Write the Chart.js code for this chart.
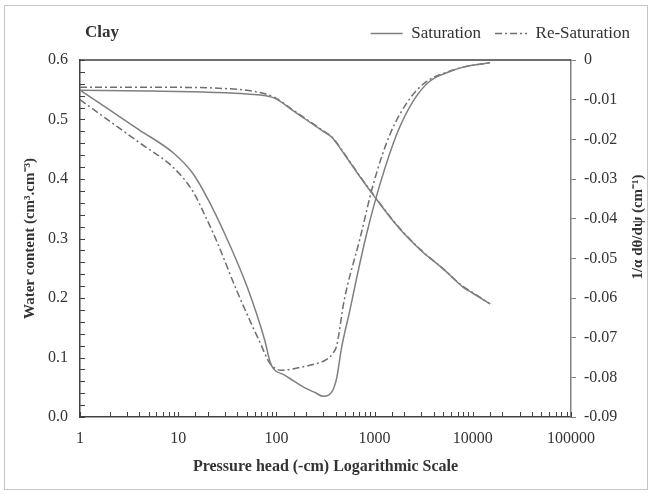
<!DOCTYPE html>
<html>
<head>
<meta charset="utf-8">
<script src="https://cdn.jsdelivr.net/npm/chart.js@4"></script>
<style>
  html, body { margin: 0; padding: 0; background: #fff; }
  #wrap { width: 651px; height: 494px; }
</style>
</head>
<body>
<div id="wrap"><canvas id="myChart" width="651" height="494"></canvas></div>
<script>
// water content (left axis)
const satHead  = [1, 5, 20, 50, 96, 150, 200, 300, 366, 500, 700, 1000, 1500, 2000, 3000, 5000, 8000, 10000, 15000];
const satTheta = [0.549, 0.548, 0.546, 0.543, 0.536, 0.514, 0.500, 0.480, 0.470, 0.440, 0.405, 0.370, 0.332, 0.308, 0.279, 0.249, 0.218, 0.208, 0.190];
const resHead  = [1, 10, 30, 60, 96, 150, 200, 300, 366, 500, 700, 1000, 1500, 2000, 3000, 5000, 8000, 10000, 15000];
const resTheta = [0.554, 0.554, 0.552, 0.547, 0.537, 0.515, 0.501, 0.481, 0.471, 0.441, 0.406, 0.371, 0.333, 0.309, 0.280, 0.249, 0.219, 0.209, 0.190];

// 1/a d(theta)/d(psi) (right axis)
const satDHead = [1, 2, 4, 9, 14, 20, 30, 50, 76, 86, 93, 120, 150, 200, 250, 300, 340, 380, 411, 462, 560, 660, 830, 1135, 1680, 2480, 3665, 5420, 8000, 15000];
const satDeriv = [-0.0076, -0.0126, -0.0176, -0.0235, -0.0285, -0.0350, -0.0440, -0.0570, -0.0706, -0.0760, -0.0778, -0.0794, -0.0809, -0.0828, -0.0839, -0.0848, -0.0845, -0.0830, -0.0802, -0.0724, -0.0631, -0.0547, -0.0438, -0.0313, -0.0187, -0.0103, -0.0053, -0.0032, -0.0018, -0.0007];
const resDHead = [1, 2, 4, 9, 14, 19, 25, 40, 68, 86, 113, 174, 250, 325, 380, 411, 490, 710, 970, 1436, 2290, 3390, 5420, 8000, 15000];
const resDeriv = [-0.0100, -0.0154, -0.0208, -0.0272, -0.0330, -0.0395, -0.0460, -0.0585, -0.0712, -0.0765, -0.0782, -0.0775, -0.0766, -0.0755, -0.0738, -0.0720, -0.0606, -0.0450, -0.0313, -0.0187, -0.0097, -0.0054, -0.0031, -0.0018, -0.0007];

const xMin = 1, xMax = 100000;
const thetaMin = 0, thetaMax = 0.6, thetaStep = 0.1, thetaMinor = 0.02;
const dMin = -0.09, dMax = 0, dStep = 0.01;

const pts = (xs, ys) => xs.map((x, i) => ({x: x, y: ys[i]}));

const serif = 'Liberation Serif';
const ink = '#333';
const solidCol = '#7f7f7f';
const dashCol = '#6e6e6e';
const dashPat = [7, 3, 2, 3];

// inward ticks, frame, outer border, extra texts
const extras = {
    id: 'extras',
    afterInit(chart) {
        const lg = chart.legend;
        const fit = lg.fit;
        lg.fit = function () { fit.call(this); this.height += 8; };
    },
    beforeDraw(chart) {
        const ctx = chart.ctx;
        ctx.save();
        ctx.fillStyle = '#fff';
        ctx.fillRect(0, 0, chart.width, chart.height);
        ctx.strokeStyle = '#8a8a8a';
        ctx.lineWidth = 1;
        ctx.setLineDash([1, 1]);
        ctx.strokeRect(4.5, 5.5, 643, 484);
        ctx.restore();
    },
    afterDraw(chart) {
        const ctx = chart.ctx;
        const a = chart.chartArea;
        const x = chart.scales.x, y = chart.scales.y;
        ctx.save();
        ctx.strokeStyle = '#404040';
        ctx.lineWidth = 1;
        ctx.beginPath();
        x.ticks.forEach(t => {
            const px = Math.round(x.getPixelForValue(t.value)) + 0.5;
            ctx.moveTo(px, a.bottom);
            ctx.lineTo(px, a.bottom - 5);
        });
        for (let v = thetaMin; v <= thetaMax + 1e-9; v += thetaMinor) {
            const py = Math.round(y.getPixelForValue(v)) + 0.5;
            ctx.moveTo(a.left, py);
            ctx.lineTo(a.left + 5, py);
        }
        ctx.stroke();
        // top frame
        ctx.lineWidth = 1.5;
        ctx.beginPath();
        ctx.moveTo(a.left, a.top);
        ctx.lineTo(a.right, a.top);
        ctx.stroke();

        ctx.fillStyle = ink;
        ctx.font = 'bold 17px "' + serif + '"';
        ctx.textBaseline = 'middle';
        ctx.textAlign = 'left';
        ctx.fillText('Clay', 85, 33);

        ctx.translate(638, 227);
        ctx.rotate(-Math.PI / 2);
        ctx.textAlign = 'center';
        ctx.font = 'bold 15px "' + serif + '"';
        ctx.fillText('1/\u03b1 d\u03b8/d\u03c8 (cm\u207b\u00b9)', 0, 0);
        ctx.restore();
    }
};

new Chart(document.getElementById('myChart'), {
    type: 'line',
    data: {
        datasets: [
            {label: 'Saturation', data: pts(satHead, satTheta), yAxisID: 'y',
             borderColor: solidCol, borderWidth: 1.5},
            {label: 'Re-Saturation', data: pts(resHead, resTheta), yAxisID: 'y',
             borderColor: dashCol, borderWidth: 1.5, borderDash: dashPat},
            {label: 'Saturation d', data: pts(satDHead, satDeriv), yAxisID: 'y2',
             borderColor: solidCol, borderWidth: 1.5},
            {label: 'Re-Saturation d', data: pts(resDHead, resDeriv), yAxisID: 'y2',
             borderColor: dashCol, borderWidth: 1.5, borderDash: dashPat}
        ]
    },
    options: {
        responsive: false,
        animation: false,
        events: [],
        layout: {padding: {top: 11, right: 7, left: 0, bottom: 0}},
        elements: {
            point: {radius: 0},
            line: {cubicInterpolationMode: 'monotone', fill: false}
        },
        plugins: {
            tooltip: {enabled: false},
            legend: {
                position: 'top',
                align: 'end',
                labels: {
                    filter: item => item.datasetIndex < 2,
                    generateLabels: chart => {
                        const items = Chart.defaults.plugins.legend.labels.generateLabels(chart);
                        items.forEach(it => {
                            it.lineDash = chart.data.datasets[it.datasetIndex].borderDash || [];
                        });
                        return items;
                    },
                    usePointStyle: true,
                    pointStyle: 'line',
                    pointStyleWidth: 32,
                    padding: 14,
                    color: ink,
                    font: {family: serif, size: 17}
                }
            }
        },
        scales: {
            x: {
                type: 'logarithmic',
                min: xMin,
                max: xMax,
                afterFit: s => { s.height = 77; },
                grid: {display: false, drawTicks: false},
                border: {display: true, color: '#404040', width: 1.5},
                ticks: {
                    autoSkip: false,
                    maxRotation: 0,
                    padding: 12,
                    color: ink,
                    font: {family: serif, size: 16},
                    callback: v => {
                        const l = Math.log10(v);
                        return Math.abs(l - Math.round(l)) < 1e-9 ? String(Math.round(v)) : '';
                    }
                },
                title: {
                    display: true,
                    text: 'Pressure head (-cm) Logarithmic Scale',
                    color: ink,
                    font: {family: serif, size: 16, weight: 'bold'},
                    padding: {top: 0, bottom: 18}
                }
            },
            y: {
                position: 'left',
                min: thetaMin,
                max: thetaMax,
                afterFit: s => { s.width = 80; },
                grid: {display: false, drawTicks: false},
                border: {display: true, color: '#404040', width: 1.5},
                ticks: {
                    stepSize: thetaStep,
                    padding: 12,
                    color: ink,
                    font: {family: serif, size: 16},
                    callback: v => v.toFixed(1)
                },
                title: {
                    display: true,
                    text: 'Water content (cm\u00b3.cm\u207b\u00b3)',
                    color: ink,
                    font: {family: serif, size: 15, weight: 'bold'},
                    padding: {top: 21, bottom: 0}
                }
            },
            y2: {
                position: 'right',
                min: dMin,
                max: dMax,
                afterFit: s => { s.width = 73; },
                grid: {display: true, drawOnChartArea: false, drawTicks: true, tickLength: 5, color: '#808080'},
                border: {display: true, color: '#808080', width: 1.5},
                ticks: {
                    stepSize: dStep,
                    padding: 8,
                    color: ink,
                    font: {family: serif, size: 16},
                    callback: v => Math.abs(v) < 1e-9 ? '0' : v.toFixed(2)
                }
            }
        }
    },
    plugins: [extras]
});
</script>
</body>
</html>
